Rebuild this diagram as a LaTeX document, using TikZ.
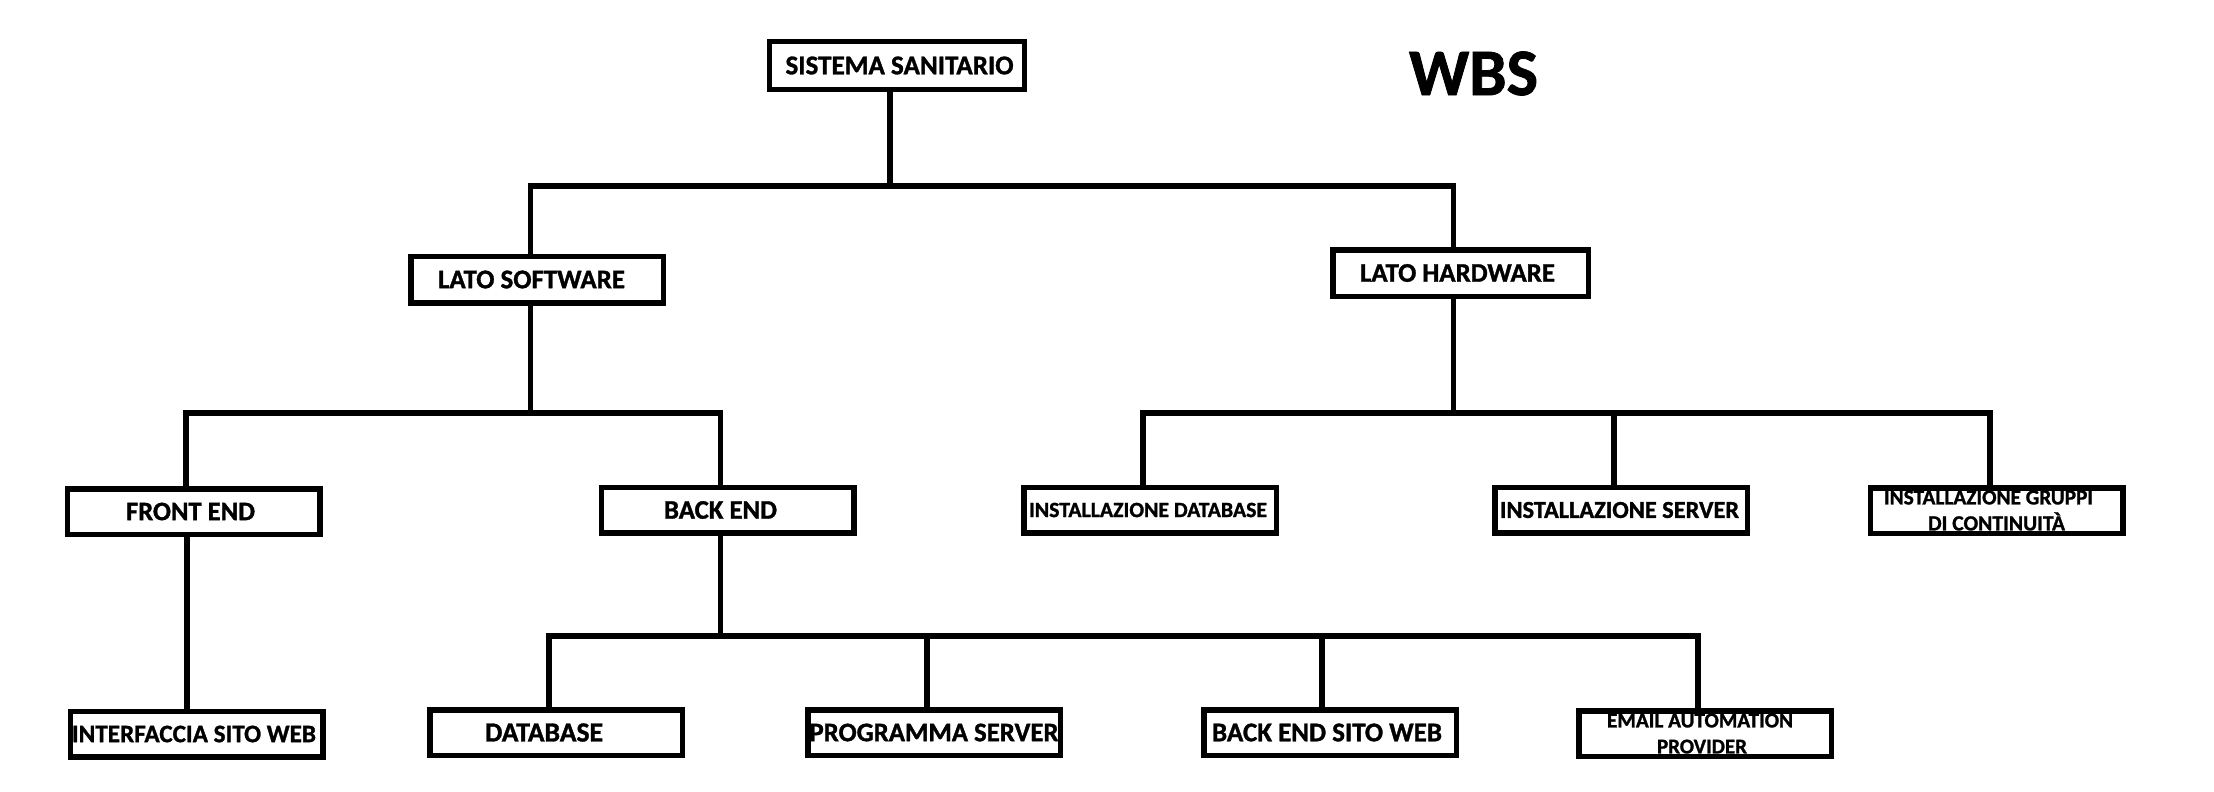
\documentclass[tikz,border=0pt]{standalone}
\usepackage{fontspec}
\usepackage{graphicx}
\setmainfont{Carlito}[BoldFeatures={FakeBold=1.2}]
\newcommand\fitw[2]{\resizebox{#1pt}{!}{#2}}
\begin{document}
\begin{tikzpicture}[x=1pt,y=-1pt,
  box/.style={draw=black, line width=5.5pt, rectangle, inner sep=0pt,
    minimum width=252.5pt, minimum height=45.5pt,
    font=\fontsize{24}{26}\selectfont\bfseries},
  twoline/.style={align=center, font=\fontsize{20.5}{26}\selectfont\bfseries},
  conn/.style={draw=black, line width=5.2pt, line join=miter}]
\useasboundingbox (0,0) rectangle (2214,792);
\fill[white] (0,0) rectangle (2214,792);

% boxes
\node[box, minimum width=255pt, minimum height=47.5pt] (root) at (897,65.5) {\hspace*{5pt}\fitw{228}{SISTEMA SANITARIO}};
\node[box, minimum height=46.5pt] (sw) at (537,279.5) {\fitw{187}{LATO SOFTWARE}\hspace*{11pt}};
\node[box, minimum width=255.5pt, minimum height=46.5pt] (hw) at (1460.5,273) {\fitw{195}{LATO HARDWARE}\hspace*{6pt}};

\node[box] (fe) at (193.5,511.5) {\fitw{129}{FRONT END}\hspace*{6pt}};
\node[box] (be) at (727.5,510) {\fitw{113}{BACK END}\hspace*{14pt}};
\node[box] (idb) at (1150,510) {\fitw{238}{INSTALLAZIONE DATABASE}\hspace*{4pt}};
\node[box] (isrv) at (1621,510) {\fitw{239}{INSTALLAZIONE SERVER}\hspace*{3pt}};
\node[box, twoline] (igr) at (1996.5,510.5) {\fitw{209}{INSTALLAZIONE GRUPPI}\hspace*{16pt}\\\fitw{137}{DI CONTINUITÀ}};

\node[box] (intf) at (196.5,734) {\fitw{244}{INTERFACCIA SITO WEB}\hspace*{5pt}};
\node[box] (db) at (556,732.5) {\fitw{118}{DATABASE}\hspace*{24pt}};
\node[box] (ps) at (934,732.5) {\fitw{249}{PROGRAMMA SERVER}};
\node[box] (bsw) at (1330,732.5) {\fitw{230}{BACK END SITO WEB}\hspace*{6pt}};
\node[box, twoline] (email) at (1705,733.5) {\fitw{186}{EMAIL AUTOMATION}\hspace*{10pt}\\\fitw{90}{PROVIDER}\hspace*{6pt}};

\node[font=\bfseries, inner sep=0pt] (wbs) at (1473.5,73.5) {\fitw{129}{WBS}};

% junctions
\coordinate (b0) at (890,186);
\coordinate (b1) at (530.5,413);
\coordinate (b2) at (1453.5,413);
\coordinate (b3) at (720.5,636);

% connectors
\draw[conn] ([xshift=-7pt]root.south) -- (b0);
\draw[conn] ([xshift=-6.5pt]sw.north) |- (b0) -| ([xshift=-7pt]hw.north);

\draw[conn] ([xshift=-6.5pt]sw.south) -- (b1);
\draw[conn] ([xshift=-7.5pt]fe.north) |- (b1) -| ([xshift=-7pt]be.north);

\draw[conn] ([xshift=-7pt]hw.south) -- (b2);
\draw[conn] ([xshift=-7pt]idb.north) |- (b2) -| ([xshift=-6.5pt]igr.north);
\draw[conn] ([xshift=-7pt]isrv.north) -- ([xshift=-7pt]isrv.north |- b2);

\draw[conn] ([xshift=-6.5pt]fe.south) -- ([xshift=-9.5pt]intf.north);

\draw[conn] ([xshift=-7pt]be.south) -- (b3);
\draw[conn] ([xshift=-7pt]db.north) |- (b3) -| ([xshift=-7pt]email.north);
\draw[conn] ([xshift=-7pt]ps.north) -- ([xshift=-7pt]ps.north |- b3);
\draw[conn] ([xshift=-8pt]bsw.north) -- ([xshift=-8pt]bsw.north |- b3);
\end{tikzpicture}
\end{document}
